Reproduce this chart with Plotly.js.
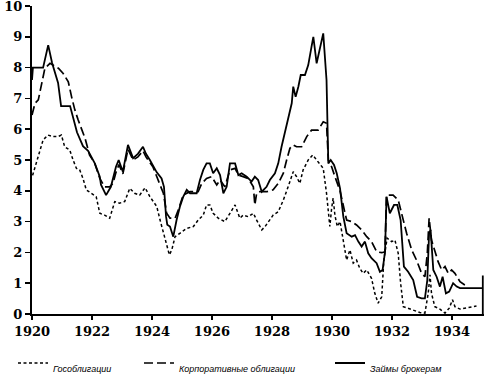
<!DOCTYPE html>
<html>
<head>
<meta charset="utf-8">
<script src="https://cdn.plot.ly/plotly-3.0.1.min.js"></script>
<style>html,body{margin:0;padding:0;background:#fff;}#chart{width:485px;height:378px;}</style>
</head>
<body>
<div id="chart"></div>
<script>
// Гособлигации (government bonds), dotted
const govYears = [1920.02,1920.14,1920.26,1920.37,1920.53,1920.70,1920.87,1920.98,1921.09,1921.26,1921.37,1921.48,1921.59,1921.70,1921.81,1921.98,1922.14,1922.26,1922.42,1922.59,1922.76,1922.92,1923.09,1923.26,1923.42,1923.59,1923.77,1923.93,1924.16,1924.27,1924.38,1924.49,1924.58,1924.66,1924.77,1924.93,1925.16,1925.38,1925.54,1925.71,1925.82,1925.93,1926.04,1926.21,1926.43,1926.60,1926.77,1926.93,1927.04,1927.21,1927.38,1927.49,1927.66,1927.77,1927.88,1928.04,1928.21,1928.38,1928.54,1928.71,1928.82,1928.93,1929.04,1929.21,1929.36,1929.49,1929.60,1929.71,1929.82,1929.88,1929.93,1929.99,1930.04,1930.10,1930.18,1930.27,1930.38,1930.49,1930.60,1930.71,1930.82,1930.93,1931.04,1931.16,1931.32,1931.43,1931.54,1931.66,1931.73,1931.84,1931.99,1932.10,1932.21,1932.29,1932.38,1932.54,1932.77,1932.93,1933.10,1933.21,1933.27,1933.32,1933.43,1933.60,1933.77,1933.91,1934.02,1934.10,1934.27,1934.49,1934.71,1934.82];
const govValues = [4.5,4.89,5.32,5.65,5.81,5.76,5.76,5.81,5.43,5.32,5.0,4.73,4.68,4.4,4.03,3.92,3.81,3.27,3.21,3.11,3.65,3.6,3.65,4.08,3.92,3.86,4.1,3.81,3.49,3.05,2.62,2.19,1.92,2.08,2.51,2.62,2.78,2.84,3.05,3.21,3.54,3.54,3.27,3.11,3.0,3.27,3.54,3.11,3.21,3.16,3.27,3.05,2.73,2.84,3.0,3.21,3.32,3.7,4.13,4.62,4.46,4.24,4.68,5.0,5.16,5.0,4.89,4.73,3.92,3.16,2.84,3.43,3.76,3.2,2.84,3.0,2.4,1.75,2.08,1.65,1.75,1.48,1.32,1.43,1.16,0.67,0.35,0.56,1.75,2.46,2.35,2.4,1.97,1.0,0.24,0.19,0.11,0.05,0.03,0.67,1.27,0.67,0.24,0.16,0.03,0.19,0.46,0.24,0.16,0.19,0.24,0.26];

// Корпоративные облигации (corporate bonds), dashed
const corpYears = [1920.00,1920.10,1920.21,1920.32,1920.43,1920.60,1920.71,1920.88,1921.04,1921.21,1921.32,1921.43,1921.54,1921.66,1921.77,1921.92,1922.09,1922.26,1922.42,1922.59,1922.70,1922.80,1922.90,1923.03,1923.20,1923.37,1923.53,1923.70,1923.80,1924.03,1924.38,1924.49,1924.60,1924.77,1924.88,1925.04,1925.27,1925.54,1925.66,1925.82,1925.99,1926.16,1926.27,1926.43,1926.60,1926.77,1926.88,1927.04,1927.21,1927.38,1927.43,1927.49,1927.60,1927.82,1928.04,1928.21,1928.38,1928.49,1928.60,1928.71,1928.82,1928.99,1929.16,1929.32,1929.54,1929.71,1929.82,1929.88,1929.99,1930.10,1930.27,1930.43,1930.49,1930.66,1930.82,1930.99,1931.16,1931.32,1931.49,1931.66,1931.77,1931.82,1932.04,1932.21,1932.32,1932.49,1932.66,1932.82,1932.99,1933.10,1933.18,1933.24,1933.32,1933.43,1933.54,1933.66,1933.77,1933.88,1933.99,1934.10,1934.27,1934.43,1934.54];
const corpValues = [6.46,6.84,6.95,7.49,7.98,8.14,8.08,7.98,7.81,7.54,7.05,6.62,6.3,5.97,5.7,5.16,4.9,4.4,4.13,4.13,4.24,4.6,4.85,4.55,5.35,5.0,5.1,5.3,5.1,4.78,3.92,3.27,3.11,3.11,3.38,3.86,3.97,3.97,4.24,4.4,4.46,4.19,4.35,4.13,4.68,4.73,4.51,4.46,4.4,4.13,3.54,3.92,3.97,3.97,4.03,4.24,4.57,5.0,5.38,5.49,5.43,5.43,5.76,5.97,5.97,6.24,6.19,5.0,4.78,4.46,4.0,3.3,3.05,3.0,2.89,2.73,2.51,2.35,2.02,1.99,2.02,3.86,3.86,3.7,3.27,2.62,2.08,1.75,1.32,1.21,1.97,3.11,2.4,2.08,1.7,1.43,1.54,1.32,1.43,1.32,1.05,0.94,0.89];

// Займы брокерам (broker loans), solid
const brokerYears = [1920.00,1920.03,1920.37,1920.54,1920.67,1920.87,1920.97,1921.27,1921.50,1921.70,1921.87,1922.09,1922.26,1922.30,1922.47,1922.63,1922.80,1922.89,1923.03,1923.20,1923.37,1923.53,1923.70,1923.80,1923.93,1924.16,1924.32,1924.40,1924.47,1924.51,1924.60,1924.66,1924.71,1924.82,1924.93,1925.04,1925.16,1925.27,1925.49,1925.60,1925.71,1925.82,1925.93,1926.04,1926.16,1926.27,1926.38,1926.49,1926.60,1926.77,1926.88,1926.99,1927.16,1927.32,1927.43,1927.54,1927.66,1927.82,1927.93,1928.10,1928.21,1928.32,1928.43,1928.54,1928.66,1928.71,1928.79,1928.88,1928.96,1929.10,1929.21,1929.32,1929.38,1929.49,1929.60,1929.71,1929.82,1929.88,1929.96,1930.07,1930.16,1930.27,1930.38,1930.49,1930.66,1930.77,1930.88,1930.99,1931.10,1931.21,1931.32,1931.49,1931.60,1931.69,1931.77,1931.82,1931.93,1932.07,1932.18,1932.29,1932.40,1932.54,1932.71,1932.84,1932.99,1933.10,1933.18,1933.24,1933.29,1933.38,1933.49,1933.60,1933.69,1933.80,1933.91,1934.04,1934.16,1934.27,1935.03,1935.03,1935.03];
const brokerValues = [7.6,8.0,8.0,8.73,8.15,7.5,6.75,6.75,5.9,5.45,5.3,4.9,4.46,4.2,3.86,4.13,4.78,5.0,4.62,5.49,5.06,5.2,5.43,5.2,5.0,4.6,4.4,4.13,3.16,2.9,2.84,2.67,2.51,3.05,3.48,3.8,4.03,3.92,3.92,4.35,4.68,4.89,4.89,4.57,4.73,4.51,3.92,4.13,4.89,4.89,4.51,4.57,4.46,4.3,4.46,4.35,3.97,4.13,4.35,4.57,4.89,5.43,5.87,6.3,6.84,7.38,7.05,7.38,7.76,7.76,8.08,8.68,9.0,8.14,8.68,9.11,7.6,4.89,5.0,4.84,4.57,4.08,3.16,2.62,2.51,2.56,2.35,2.19,2.35,1.97,1.81,1.65,1.37,1.43,2.02,3.81,3.27,3.54,3.54,3.05,1.54,1.37,1.1,0.56,0.51,0.51,1.1,2.62,2.73,1.43,1.21,0.89,1.21,0.67,0.73,1.0,0.89,0.84,0.84,1.25,0];

const seriesNames = ['Гособлигации', 'Корпоративные облигации', 'Займы брокерам'];
const xTickVals = [1920, 1922, 1924, 1926, 1928, 1930, 1932, 1934];
const yTickVals = [0,1,2,3,4,5,6,7,8,9,10];

const legendFont = {family: 'Liberation Sans, Arial, sans-serif', size: 9, color: '#000', style: 'italic'};
const tickFont = {family: 'DejaVu Serif, serif', size: 13, color: '#000', weight: 'bold'};

const traces = [
  {x: govYears, y: govValues, name: '<br>' + seriesNames[0], type: 'scatter', mode: 'lines',
   line: {color: '#000', width: 1.5, dash: '3px,2.5px'}, legend: 'legend'},
  {x: corpYears, y: corpValues, name: '<br>' + seriesNames[1], type: 'scatter', mode: 'lines',
   line: {color: '#000', width: 1.7, dash: '9px,4px'}, legend: 'legend2'},
  {x: brokerYears, y: brokerValues, name: '<br>' + seriesNames[2], type: 'scatter', mode: 'lines',
   line: {color: '#000', width: 1.8}, legend: 'legend3'}
];

const legendBase = {orientation: 'h', xanchor: 'left', yanchor: 'middle', y: -0.16, valign: 'middle',
  font: legendFont, bgcolor: 'rgba(0,0,0,0)', itemwidth: 30};

function legX(px) { return (px - 32) / 452; }

const layout = {
  width: 485, height: 378,
  margin: {l: 32, r: 1, t: 6, b: 64, autoexpand: false},
  paper_bgcolor: '#fff', plot_bgcolor: '#fff',
  font: {family: 'DejaVu Serif, serif', size: 13, color: '#000'},
  xaxis: {range: [1920, 1935.07], tickvals: xTickVals, ticktext: xTickVals.map(String),
    showgrid: false, zeroline: false, showline: true, linecolor: '#000', linewidth: 2,
    ticks: 'outside', ticklen: 4, tickwidth: 1.5, tickcolor: '#000', automargin: false,
    tickfont: tickFont},
  yaxis: {range: [0, 10], tickvals: yTickVals, ticklabeloverflow: 'allow',
    showgrid: false, zeroline: false, showline: true, linecolor: '#000', linewidth: 2,
    ticks: 'outside', ticklen: 5, tickwidth: 1.5, tickcolor: '#000', automargin: false,
    tickfont: tickFont},
  showlegend: true,
  legend: Object.assign({}, legendBase, {x: legX(13)}),
  legend2: Object.assign({}, legendBase, {x: legX(139)}),
  legend3: Object.assign({}, legendBase, {x: legX(330)})
};

Plotly.newPlot('chart', traces, layout, {displayModeBar: false, staticPlot: true});
</script>
</body>
</html>
